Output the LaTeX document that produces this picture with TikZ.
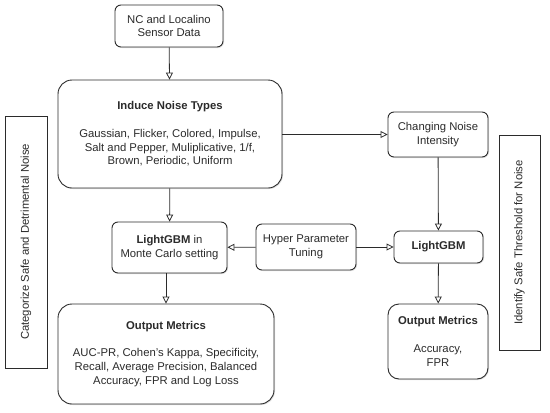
\documentclass[tikz,border=0pt]{standalone}
\usepackage{fontspec}
\setmainfont{Liberation Sans}
\usepackage{xcolor}
\usetikzlibrary{arrows.meta, positioning, shadows}

\definecolor{ink}{HTML}{2B2B2B}

\begin{document}
\begin{tikzpicture}[x=1pt, y=-1pt,
    box/.style={rectangle, draw=ink, line width=0.9pt, rounded corners=6pt, align=center,
                text=ink, font=\fontsize{11.3}{13.8}\selectfont, inner sep=0pt,
                fill=white, drop shadow={opacity=0.25, shadow xshift=1pt, shadow yshift=-1pt}},
    bigbox/.style={box, rounded corners=14pt},
    sidebox/.style={rectangle, draw=ink, line width=0.9pt, align=center, text=ink, inner sep=0pt,
                    font=\fontsize{11.3}{13.8}\selectfont, fill=white,
                    drop shadow={opacity=0.25, shadow xshift=1pt, shadow yshift=-1pt}},
    arrow/.style={-{Triangle[open, length=7pt, width=7pt]}, draw=ink, line width=0.8pt},
]
\useasboundingbox (0,0) rectangle (550,413);

% main column (left)
\node[box, minimum width=108pt, minimum height=42pt] (data) at (169,26)
    {NC and Localino\\Sensor Data};
\node[bigbox, minimum width=224pt, minimum height=108pt] (noise) at (170,134)
    {\textbf{Induce Noise Types}\\[13.8pt]
     Gaussian, Flicker, Colored, Impulse,\\
     Salt and Pepper, Muliplicative, 1/f,\\
     Brown, Periodic, Uniform};
\node[box, minimum width=115pt, minimum height=51pt] (lgbmmc) at (169.5,247.5)
    {\textbf{LightGBM} in\\Monte Carlo setting};
\node[bigbox, minimum width=216pt, minimum height=100pt] (outleft) at (166,354)
    {\textbf{Output Metrics}\\[13.8pt]
     AUC-PR, Cohen's Kappa, Specificity,\\
     Recall, Average Precision, Balanced\\
     Accuracy, FPR and Log Loss};

% tuning
\node[box, minimum width=100pt, minimum height=46pt] (tune) at (306,247)
    {Hyper Parameter\\Tuning};

% intensity column (right)
\node[box, minimum width=100pt, minimum height=45pt] (intens) at (438,134.5)
    {Changing Noise\\Intensity};
\node[box, minimum width=89pt, minimum height=32pt] (lgbm) at (438.5,247)
    {\textbf{LightGBM}};
\node[bigbox, rounded corners=11pt, minimum width=100pt, minimum height=75pt] (outright) at (438,341.5)
    {\textbf{Output Metrics}\\[13.8pt]
     Accuracy,\\FPR};

% side labels
\node[sidebox, minimum width=42pt, minimum height=252pt] (cat) at (26,242)
    {\rotatebox{90}{Categorize Safe and Detrimental Noise}};
\node[sidebox, minimum width=41pt, minimum height=215pt] (ident) at (519.5,242.5)
    {\rotatebox{90}{Identify Safe Threshold for Noise}};

% arrows
\draw[arrow] (data) -- (noise);
\draw[arrow] (noise) -- (lgbmmc);
\draw[arrow] (lgbmmc.south -| outleft.north) -- (outleft.north);
\draw[arrow] (noise.east |- intens.west) -- (intens.west);
\draw[arrow] (intens) -- (lgbm);
\draw[arrow] (tune) -- (lgbmmc);
\draw[arrow] (tune) -- (lgbm);
\draw[arrow] (lgbm) -- (outright);

\end{tikzpicture}
\end{document}
